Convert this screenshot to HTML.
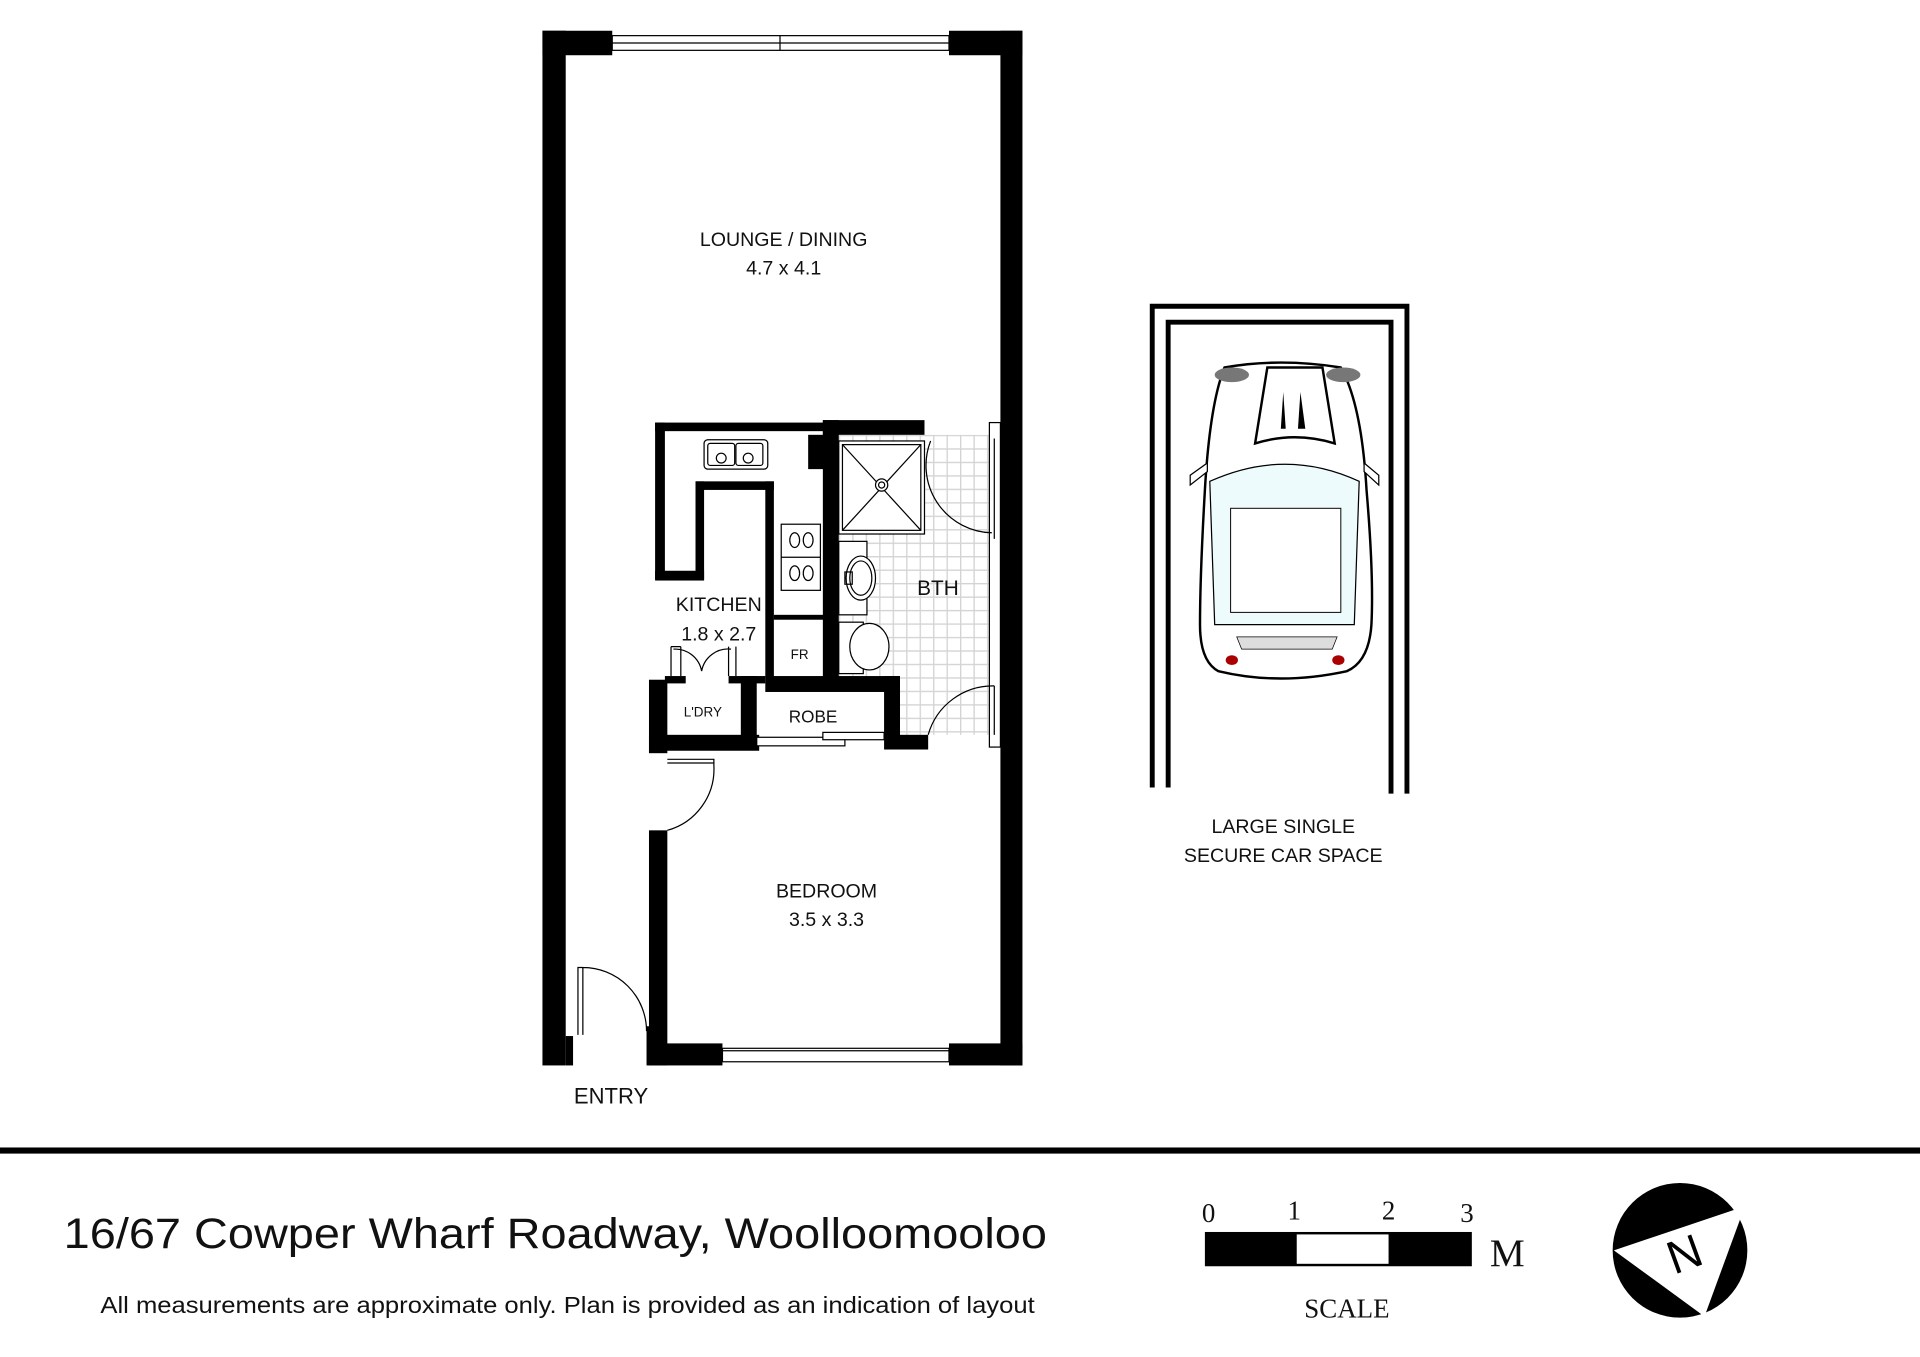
<!DOCTYPE html>
<html><head><meta charset="utf-8"><style>
html,body{margin:0;padding:0;background:#fff;}
svg{display:block;}
</style></head><body>
<svg width="1920" height="1357" viewBox="0 0 1568 1108" xmlns="http://www.w3.org/2000/svg" font-family="Liberation Sans, sans-serif">
<defs>
<pattern id="tile" x="685" y="355" width="11" height="11" patternUnits="userSpaceOnUse">
<rect width="11" height="11" fill="#fff"/>
<path d="M0 0.5H11M0.5 0V11" stroke="#d4d4d4" stroke-width="1.2"/>
</pattern>
</defs>
<rect width="1568" height="1108" fill="#fff"/>
<!-- bathroom tiles -->
<path d="M685 355H810V600H735V552H685Z" fill="url(#tile)"/>
<g fill="#000">
<rect x="443" y="25" width="19" height="845"/>
<rect x="443" y="25" width="57" height="20"/>
<rect x="775" y="25" width="60" height="20"/>
<rect x="817" y="25" width="18" height="845"/>
<rect x="530" y="852" width="60" height="18"/>
<rect x="775" y="852" width="60" height="18"/>
<rect x="462" y="846" width="6" height="24"/>
<rect x="528" y="838" width="6" height="32"/>
<rect x="530" y="678" width="15" height="192"/>
<rect x="535" y="345" width="140" height="7"/>
<rect x="535" y="345" width="8" height="128"/>
<rect x="535" y="466" width="40" height="8"/>
<rect x="568" y="393" width="7" height="80"/>
<rect x="568" y="393" width="64" height="7"/>
<rect x="625" y="393" width="7" height="160"/>
<rect x="632" y="502" width="42" height="4"/>
<rect x="660" y="355" width="14" height="28"/>
<rect x="672" y="343" width="13" height="215"/>
<rect x="672" y="343" width="83" height="12"/>
<rect x="625" y="552" width="110" height="13"/>
<rect x="530" y="555" width="15" height="60"/>
<rect x="605" y="552" width="13" height="60"/>
<rect x="722" y="552" width="13" height="60"/>
<rect x="530" y="600" width="90" height="13"/>
<rect x="735" y="600" width="23" height="12"/>
<rect x="543" y="552" width="17" height="6"/>
<rect x="595" y="552" width="30" height="6"/>
</g>
<g fill="#fff" stroke="#000" stroke-width="1">
<rect x="500" y="29" width="275" height="12"/>
<line x1="500" y1="35" x2="775" y2="35"/>
<line x1="637" y1="29" x2="637" y2="41"/>
<rect x="590" y="856" width="185" height="11"/>
<line x1="590" y1="858" x2="775" y2="858"/>
<rect x="808" y="345" width="9" height="265"/>
<rect x="618" y="602" width="72" height="7"/>
<rect x="672" y="598" width="50" height="6"/>
</g>
<rect x="820" y="360" width="4" height="235" fill="#000"/>
<g fill="none" stroke="#000" stroke-width="1">
<path d="M472 845V790H476V845M476 790A52 52 0 0 1 528 842"/>
<path d="M545 620H583V623H545M583 623V625A52 52 0 0 1 545 678"/>
<path d="M548 552V528M556 552V528M548 528L556 528"/>
<path d="M550 530A22 22 0 0 1 573 548M573 548A22 22 0 0 1 597 530"/>
<path d="M595 552V528M601 552V528"/>
<path d="M812 358V440M760 360A55 55 0 0 0 810 435"/>
<path d="M812 560V600M812 560A55 55 0 0 0 758 600"/>
</g>
<g fill="none" stroke="#000" stroke-width="1">
<rect x="685" y="360" width="70" height="76" fill="#fff"/>
<rect x="688" y="363" width="64" height="70"/>
<path d="M688 363L752 433M752 363L688 433"/>
<circle cx="720" cy="396" r="5" fill="#fff"/><circle cx="720" cy="396" r="2.5"/>
<rect x="685" y="442" width="23" height="60" fill="#fff"/>
<ellipse cx="703" cy="472" rx="12" ry="18" fill="#fff"/>
<ellipse cx="703" cy="472" rx="9" ry="14"/>
<rect x="690" y="467" width="6" height="10"/>
<rect x="685" y="508" width="20" height="42" fill="#fff"/>
<ellipse cx="710" cy="528" rx="16" ry="19" fill="#fff"/>
<rect x="575" y="359" width="52" height="24" rx="3"/>
<rect x="578" y="362" width="22" height="18" rx="2"/><rect x="601" y="362" width="22" height="18" rx="2"/>
<circle cx="589" cy="374" r="4"/><circle cx="611" cy="374" r="4"/>
<rect x="638" y="428" width="32" height="54"/>
<line x1="638" y1="455" x2="670" y2="455"/>
<ellipse cx="649" cy="441" rx="4" ry="6"/><ellipse cx="660" cy="441" rx="4" ry="6"/>
<ellipse cx="649" cy="468" rx="4" ry="6"/><ellipse cx="660" cy="468" rx="4" ry="6"/>
</g>
<g font-size="16" text-anchor="middle" fill="#111">
<text x="640" y="201">LOUNGE / DINING</text>
<text x="640" y="224">4.7 x 4.1</text>
<text x="587" y="499">KITCHEN</text>
<text x="587" y="523">1.8 x 2.7</text>
<text x="766" y="486" font-size="17">BTH</text>
<text x="653" y="538" font-size="11">FR</text>
<text x="574" y="585" font-size="11">L'DRY</text>
<text x="664" y="590" font-size="14">ROBE</text>
<text x="675" y="733">BEDROOM</text>
<text x="675" y="756">3.5 x 3.3</text>
<text x="499" y="901" font-size="18">ENTRY</text>
<text x="1048" y="680">LARGE SINGLE</text>
<text x="1048" y="704">SECURE CAR SPACE</text>
</g>
<g fill="none" stroke="#000" stroke-width="4">
<path d="M941 643V250H1149V648"/>
<path d="M954 643V263H1136V648"/>
</g>
<g stroke="#000" stroke-width="2" fill="#fff">
<path d="M1000 300Q1045 292 1095 300Q1112 330 1116 400Q1122 470 1120 510Q1118 540 1100 548Q1045 560 995 548Q980 540 980 510Q980 470 984 400Q988 330 1000 300Z"/>
<path d="M1025 362L1035 300H1080L1090 362Q1057 352 1025 362Z"/>
<path d="M988 393Q1050 365 1110 393L1106 510H992Z" fill="#eefbfd" stroke-width="1"/>
<rect x="1005" y="415" width="90" height="85" stroke-width="0.8"/>
<path d="M1010 520H1092L1088 530H1014Z" fill="#ddd" stroke-width="0.6"/>
</g>
<path d="M1048 320L1046 350H1050ZM1062 320L1060 350H1066Z" fill="#000"/>
<ellipse cx="1006" cy="306" rx="14" ry="6" fill="#777"/>
<ellipse cx="1097" cy="306" rx="14" ry="6" fill="#777"/>
<ellipse cx="1006" cy="539" rx="5" ry="4" fill="#a00"/>
<ellipse cx="1093" cy="539" rx="5" ry="4" fill="#a00"/>
<path d="M972 396L986 385V378L972 388ZM1126 396L1114 385V378L1126 388Z" fill="#fff" stroke="#000"/>
<rect x="0" y="937" width="1568" height="5" fill="#000"/>
<text x="52" y="1019" font-size="35" fill="#111" textLength="803" lengthAdjust="spacingAndGlyphs">16/67 Cowper Wharf Roadway, Woolloomooloo</text>
<text x="82" y="1072" font-size="19" fill="#111" textLength="763" lengthAdjust="spacingAndGlyphs">All measurements are approximate only. Plan is provided as an indication of layout</text>
<g font-family="Liberation Serif, serif" fill="#111" font-size="22" text-anchor="middle">
<text x="987" y="998">0</text>
<text x="1057" y="996">1</text>
<text x="1134" y="996">2</text>
<text x="1198" y="998">3</text>
<text x="1231" y="1034" font-size="32">M</text>
<text x="1100" y="1076">SCALE</text>
</g>
<rect x="985" y="1007" width="216" height="26" fill="#fff" stroke="#000" stroke-width="2"/>
<rect x="985" y="1007" width="74" height="26" fill="#000"/>
<rect x="1134" y="1007" width="67" height="26" fill="#000"/>
<circle cx="1372" cy="1021" r="55" fill="#000"/>
<path d="M1318 1021L1425 985L1392 1075Z" fill="#fff"/>
<text x="1376" y="1037" font-size="38" fill="#000" text-anchor="middle" transform="rotate(-20 1376 1025)">N</text>
</svg>
</body></html>
